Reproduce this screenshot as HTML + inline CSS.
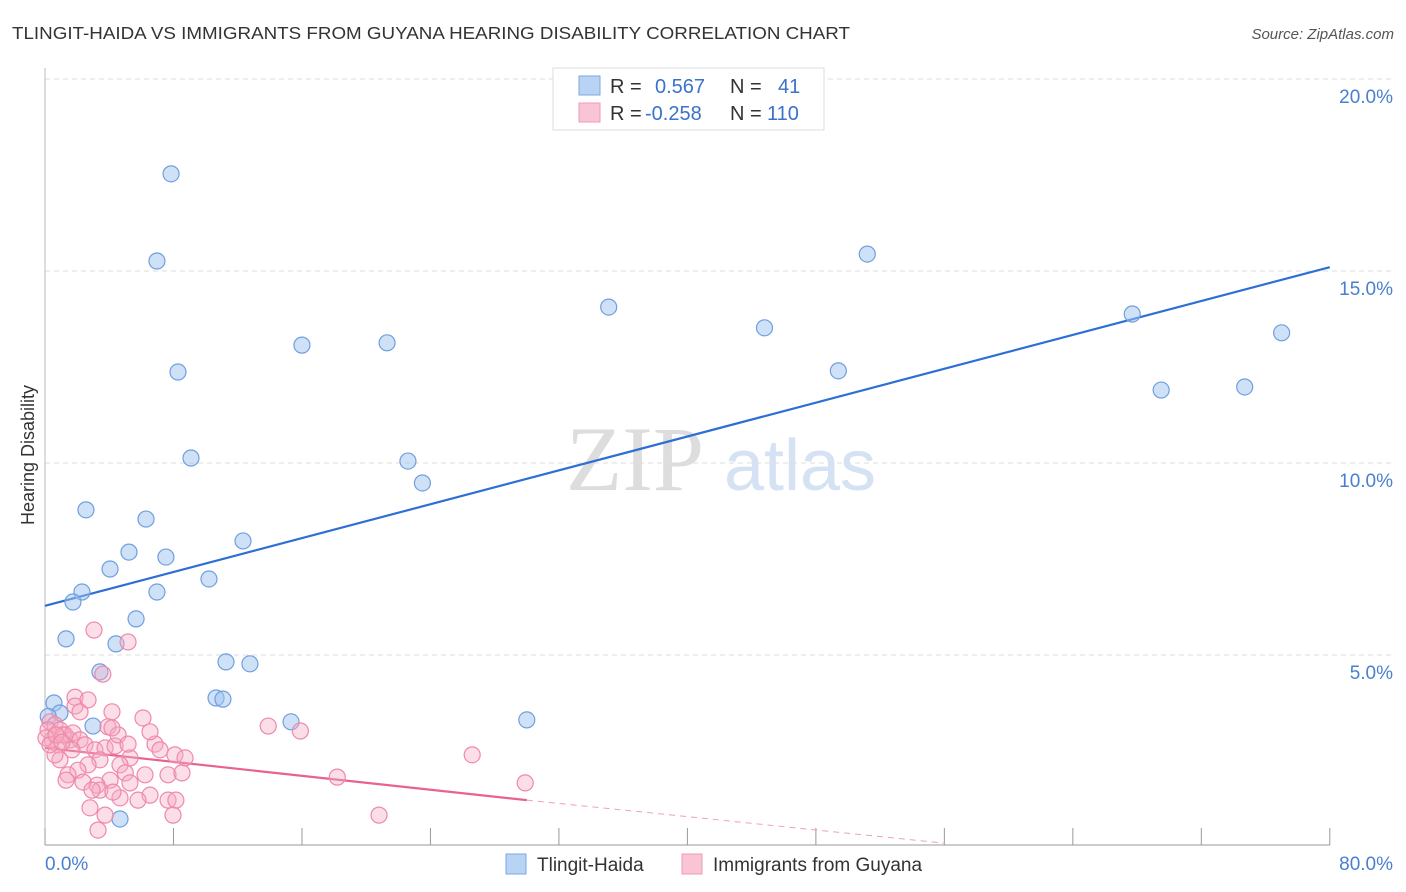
<!DOCTYPE html>
<html><head><meta charset="utf-8"><style>
body{margin:0;background:#fff;font-family:"Liberation Sans",sans-serif;}
svg{display:block}
</style></head><body>
<svg id="chart" width="1406" height="892">
<text x="12" y="39" font-size="17.5" fill="#333" textLength="838" lengthAdjust="spacingAndGlyphs">TLINGIT-HAIDA VS IMMIGRANTS FROM GUYANA HEARING DISABILITY CORRELATION CHART</text>
<text x="1394" y="39" font-size="15" fill="#555" font-style="italic" text-anchor="end">Source: ZipAtlas.com</text>
<text x="34" y="455" font-size="18" fill="#333" text-anchor="middle" transform="rotate(-90 34 455)">Hearing Disability</text>
<g><text x="635" y="490" font-size="92" fill="#ddd" font-family="Liberation Serif,serif" text-anchor="middle">ZIP</text><text x="800" y="490" font-size="72" fill="#d4e2f4" text-anchor="middle">atlas</text></g>
<g id="grid"></g><g id="axes"></g><g id="lines"></g><g id="pts"></g>
<g>
<rect x="553" y="68" width="271" height="62" fill="#fff" stroke="#ddd"/>
<rect x="579" y="76" width="21" height="19" fill="#b8d3f3" stroke="#7aa8e0"/>
<text x="610" y="93" font-size="20" fill="#333">R =</text><text x="655" y="93" font-size="20" fill="#3a72cc">0.567</text>
<text x="730" y="93" font-size="20" fill="#333">N =</text><text x="778" y="93" font-size="20" fill="#3a72cc">41</text>
<rect x="579" y="103" width="21" height="19" fill="#f9c5d5" stroke="#ee9ab5"/>
<text x="610" y="120" font-size="20" fill="#333">R =</text><text x="645" y="120" font-size="20" fill="#3a72cc">-0.258</text>
<text x="730" y="120" font-size="20" fill="#333">N =</text><text x="767" y="120" font-size="20" fill="#3a72cc">110</text>
</g>
<g>
<rect x="506" y="854" width="20" height="20" fill="#b8d3f3" stroke="#7aa8e0"/>
<text x="537" y="871" font-size="19" fill="#333">Tlingit-Haida</text>
<rect x="682" y="854" width="20" height="20" fill="#f9c5d5" stroke="#ee9ab5"/>
<text x="713" y="871" font-size="19" fill="#333">Immigrants from Guyana</text>
</g>
</svg>
<script>
const yTicks=[5,10,15,20];
const yTickLabels=["5.0%","10.0%","15.0%","20.0%"];
const xTicks=[0,8,16,24,32,40,48,56,64,72,80];
const blueX=[7.85,6.97,8.28,16.0,21.3,35.1,51.2,44.8,49.4,67.7,69.5,74.7,77.0,9.09,22.6,23.5,2.55,6.29,12.33,5.23,7.53,4.05,10.21,2.30,6.97,1.74,5.67,1.31,4.42,11.27,12.76,3.42,10.65,11.08,0.56,0.93,2.99,15.32,30.0,4.67,0.2];
const blueY=[17.53,15.26,12.37,13.07,13.13,14.06,15.44,13.52,12.40,13.88,11.90,11.98,13.39,10.13,10.05,9.48,8.78,8.54,7.97,7.68,7.55,7.24,6.98,6.64,6.64,6.38,5.94,5.42,5.29,4.82,4.77,4.56,3.88,3.85,3.75,3.49,3.15,3.26,3.31,0.73,3.4];
const pinkX=[3.05,5.17,3.6,13.9,15.9,18.2,26.6,29.9,20.8,1.87,1.87,2.18,4.17,6.1,0.31,0.62,0.93,1.25,1.56,0.44,0.81,1.12,1.74,2.18,2.49,3.11,3.74,4.36,3.92,4.55,6.85,7.16,8.09,8.72,5.29,4.67,3.42,2.68,2.05,1.43,0.93,0.62,6.23,7.66,8.53,5.0,4.05,3.24,2.37,5.29,6.54,4.67,3.42,2.8,3.74,3.3,7.66,8.15,7.97,5.79,1.31,1.68,0.19,0.06,0.31,0.68,1.06,2.68,6.54,4.17,5.17,2.93,4.23];
const pinkY=[5.65,5.34,4.5,3.15,3.02,1.82,2.4,1.67,0.83,3.9,3.67,3.52,3.52,3.36,3.26,3.18,3.05,2.92,2.79,2.79,2.66,2.92,2.97,2.79,2.66,2.53,2.58,2.63,3.13,2.92,2.68,2.53,2.4,2.32,2.32,2.14,2.27,2.14,2.0,1.88,2.27,2.4,1.88,1.88,1.93,1.93,1.74,1.61,1.69,1.67,1.35,1.28,1.48,1.02,0.83,0.44,1.22,1.22,0.83,1.22,1.74,2.53,3.05,2.84,2.66,2.92,2.73,3.83,3.0,3.1,2.68,1.48,1.43];
const blueTrend=[[0,6.28],[80,15.1]];
const pinkTrend=[[0,2.58],[30,1.22]];
const pinkDash=[[30,1.22],[56,0.1]];
const X=v=>45+v*16.06, Y=v=>847-v*38.4;
const NS="http://www.w3.org/2000/svg";
function mk(tag,attrs,parent){const e=document.createElementNS(NS,tag);for(const k in attrs)e.setAttribute(k,attrs[k]);document.getElementById(parent).appendChild(e);return e;}
yTicks.forEach((t,i)=>{
 const g=mk('line',{x1:45,x2:1394,y1:Y(t),y2:Y(t),stroke:'#ddd','stroke-dasharray':'5,4'},'grid');
 
 
 const l=mk('text',{x:1393,y:Y(t)+24,'font-size':19,fill:'#4a7fd0','text-anchor':'end'},'axes');
 l.textContent=yTickLabels[i];
 
 
});
const ax=mk('line',{x1:45,x2:1330,y1:845,y2:845,stroke:'#999'},'axes');


const ay=mk('line',{x1:45,x2:45,y1:68,y2:845,stroke:'#bbb'},'axes');


xTicks.forEach(t=>{const k=mk('line',{x1:X(t),x2:X(t),y1:828,y2:845,stroke:'#999'},'axes');
 
 });
const x0=mk('text',{x:45,y:870,'font-size':19,fill:'#4a7fd0'},'axes');x0.textContent='0.0%';


const x1=mk('text',{x:1393,y:870,'font-size':19,fill:'#4a7fd0','text-anchor':'end'},'axes');x1.textContent='80.0%';


blueX.forEach((v,i)=>{const c=mk('circle',{cx:X(v),cy:Y(blueY[i]),r:8,fill:'rgba(160,196,240,0.5)',stroke:'#6f9fdf','stroke-width':1.2},'pts');
 
 });
pinkX.forEach((v,i)=>{const c=mk('circle',{cx:X(v),cy:Y(pinkY[i]),r:8,fill:'rgba(246,172,196,0.4)',stroke:'#ef88aa','stroke-width':1.2},'pts');
 
 });
const bl=mk('line',{x1:X(blueTrend[0][0]),y1:Y(blueTrend[0][1]),x2:X(blueTrend[1][0]),y2:Y(blueTrend[1][1]),stroke:'#2e6fd4','stroke-width':2.2},'lines');


const pl=mk('line',{x1:X(pinkTrend[0][0]),y1:Y(pinkTrend[0][1]),x2:X(pinkTrend[1][0]),y2:Y(pinkTrend[1][1]),stroke:'#e8628f','stroke-width':2.2},'lines');


const pd=mk('line',{x1:X(pinkDash[0][0]),y1:Y(pinkDash[0][1]),x2:X(pinkDash[1][0]),y2:Y(pinkDash[1][1]),stroke:'#eea0ba','stroke-width':1,'stroke-dasharray':'6,5'},'lines');


</script>
</body></html>
